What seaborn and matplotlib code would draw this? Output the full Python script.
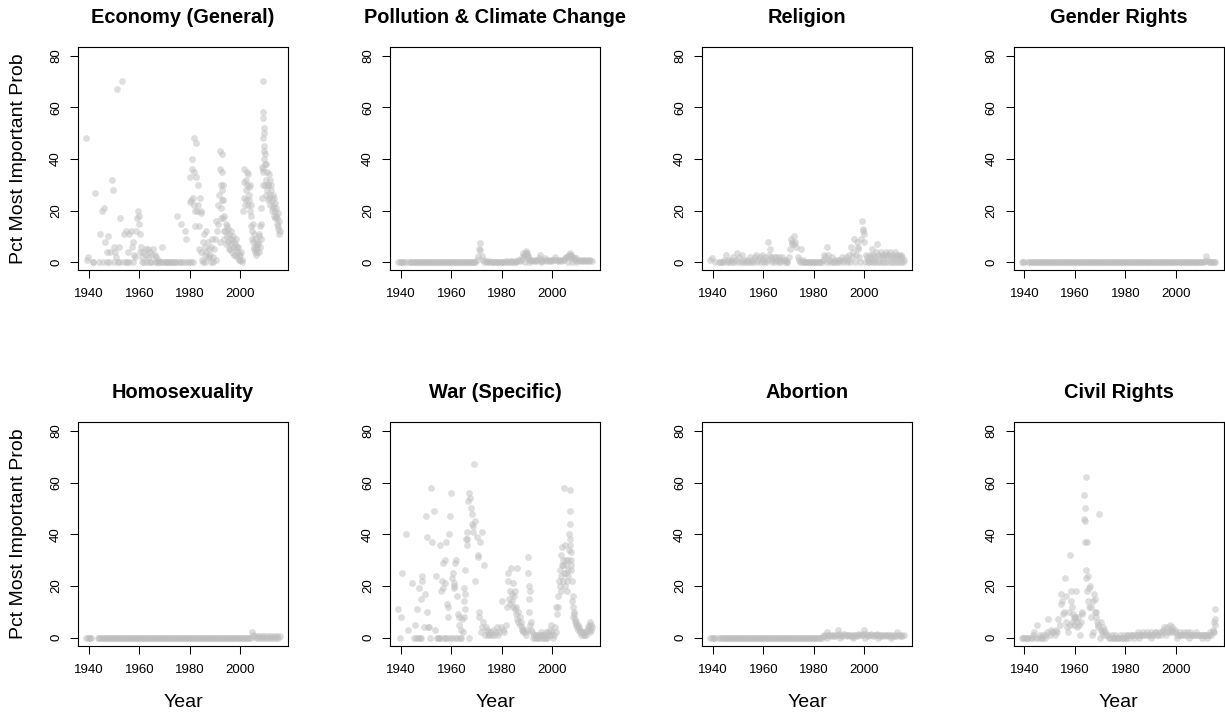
import matplotlib
matplotlib.use("Agg")
import matplotlib.pyplot as plt
import pandas as pd
import seaborn as sns

N = None

# survey dates shared by every panel (semi-annual)
survey_dates = [
    1939.0, 1939.5, 1940.0, 1940.5, 1941.0, 1941.5, 1942.0, 1942.5, 1943.0, 1943.5,
    1944.0, 1944.5, 1945.0, 1945.5, 1946.0, 1946.5, 1947.0, 1947.5, 1948.0, 1948.5,
    1949.0, 1949.5, 1950.0, 1950.5, 1951.0, 1951.5, 1952.0, 1952.5, 1953.0, 1953.5,
    1954.0, 1954.5, 1955.0, 1955.5, 1956.0, 1956.5, 1957.0, 1957.5, 1958.0, 1958.5,
    1959.0, 1959.5, 1960.0, 1960.5, 1961.0, 1961.5, 1962.0, 1962.5, 1963.0, 1963.5,
    1964.0, 1964.5, 1965.0, 1965.5, 1966.0, 1966.5, 1967.0, 1967.5, 1968.0, 1968.5,
    1969.0, 1969.5, 1970.0, 1970.5, 1971.0, 1971.5, 1972.0, 1972.5, 1973.0, 1973.5,
    1974.0, 1974.5, 1975.0, 1975.5, 1976.0, 1976.5, 1977.0, 1977.5, 1978.0, 1978.5,
    1979.0, 1979.5, 1980.0, 1980.5, 1981.0, 1981.5, 1982.0, 1982.5, 1983.0, 1983.5,
    1984.0, 1984.5, 1985.0, 1985.5, 1986.0, 1986.5, 1987.0, 1987.5, 1988.0, 1988.5,
    1989.0, 1989.5, 1990.0, 1990.5, 1991.0, 1991.5, 1992.0, 1992.5, 1993.0, 1993.5,
    1994.0, 1994.5, 1995.0, 1995.5, 1996.0, 1996.5, 1997.0, 1997.5, 1998.0, 1998.5,
    1999.0, 1999.5, 2000.0, 2000.5, 2001.0, 2001.5, 2002.0, 2002.5, 2003.0, 2003.5,
    2004.0, 2004.5, 2005.0, 2005.5, 2006.0, 2006.5, 2007.0, 2007.5, 2008.0, 2008.5,
    2009.0, 2009.5, 2010.0, 2010.5, 2011.0, 2011.5, 2012.0, 2012.5, 2013.0, 2013.5,
    2014.0, 2014.5, 2015.0, 2015.5,
]

titles = ["Economy (General)", "Pollution & Climate Change", "Religion", "Gender Rights",
          "Homosexuality", "War (Specific)", "Abortion", "Civil Rights"]

economy_vals = [
    48, 2, N, N, N, 0, N, 27, N, N, 0, 11, 20, 0, 21, 8, 0, 10, 0, 4,
    32, 28, 0, 4, 67, 0, 0, 17, 70, 0, 11, 0, 0, 4, 0, 12, 6, 0, 3, 12,
    17, 20, 15, 6, 0, 4, 0, 5, 0, 2, 0, 0, 3, 5, 0, 2, 0, 0, 0, 0,
    6, 0, 0, 0, 0, 0, 0, 0, 0, 0, 0, 0, 18, 0, 0, 15, 0, 0, 12, 9,
    0, 0, 33, 24, 36, 48, 20, 46, 22, 14, 25, 19, 8, 11, 6, 4, 8, 5, 3, 6,
    2, 5, 9, 16, 22, 26, 43, 42, 30, 18, 12, 14, 8, 11, 5, 9, 6, 8, 3, 6,
    4, 3, 1, 0, 20, 36, 28, 35, 34, 26, 18, 12, 8, 6, 5, 4, 7, 10, 21, 37,
    70, 50, 32, 35, 30, 26, 28, 24, 22, 20, 18, 17, 14, 12,
]
economy_extra = [
    (1939.3, 1), (1941.8, 0), (1947.2, 4), (1949.9, 6), (1950.9, 2), (1952.0, 6),
    (1954.8, 12), (1955.8, 11), (1957.6, 8), (1958.2, 2), (1959.8, 18), (1960.1, 11),
    (1960.3, 4), (1961.2, 2), (1962.8, 3), (1963.4, 5), (1964.3, 4), (1966.0, 3), (1967.2, 1),
    (1980.2, 23.5), (1980.3, 0), (1980.8, 40), (1981.2, 25), (1981.3, 0), (1981.6, 35),
    (1981.8, 22), (1982.0, 14), (1982.3, 33), (1982.8, 20), (1983.2, 30), (1983.4, 5),
    (1984.2, 20), (1984.4, 4), (1984.7, 1), (1985.2, 0), (1985.8, 3), (1986.0, 0), (1986.3, 12),
    (1987.2, 2), (1987.6, 2), (1988.2, 0), (1988.7, 9), (1989.3, 0), (1990.2, 1),
    (1990.8, 12), (1991.2, 15), (1991.7, 8), (1992.0, 36), (1992.1, 30), (1992.2, 21),
    (1992.3, 17), (1992.6, 35), (1992.7, 28), (1992.8, 24), (1993.1, 24), (1993.2, 17),
    (1993.3, 12), (1993.6, 9), (1994.2, 15), (1994.3, 7), (1994.8, 10), (1995.2, 13),
    (1995.4, 5), (1995.8, 9), (1996.2, 7), (1996.4, 12), (1996.7, 4), (1997.2, 10),
    (1997.4, 3), (1997.8, 7), (1998.2, 5), (1998.4, 9), (1998.7, 2), (1999.2, 6),
    (1999.4, 1), (1999.8, 3), (2000.2, 4), (2000.7, 1),
    (2001.2, 25), (2001.3, 31), (2001.7, 22), (2002.2, 24), (2002.3, 32), (2002.7, 30),
    (2002.8, 22), (2003.2, 29), (2003.3, 24), (2003.7, 20), (2003.8, 30), (2004.2, 14),
    (2004.3, 22), (2004.7, 9), (2004.8, 15),
    (2005.2, 11), (2005.3, 5), (2005.7, 9), (2005.8, 4), (2006.2, 7), (2006.3, 3),
    (2006.7, 6), (2006.8, 8), (2007.2, 4), (2007.3, 11), (2007.7, 6), (2007.8, 14),
    (2008.2, 9), (2008.3, 15), (2008.7, 25), (2008.8, 30), (2008.9, 36),
    (2009.0, 58), (2009.1, 56), (2009.2, 52), (2009.1, 48), (2009.3, 45), (2009.2, 43),
    (2009.4, 40), (2009.0, 35), (2009.6, 38), (2009.7, 30), (2009.8, 42), (2009.9, 26),
    (2010.2, 38), (2010.3, 28), (2010.7, 30), (2010.8, 24), (2011.2, 34), (2011.3, 25),
    (2011.7, 32), (2011.8, 22), (2012.2, 30), (2012.3, 20), (2012.7, 26), (2012.8, 21),
    (2013.2, 25), (2013.3, 18), (2013.7, 23), (2013.8, 17), (2014.2, 21), (2014.3, 15),
    (2014.7, 19), (2014.8, 13), (2015.2, 16), (2015.3, 11),
]

pollution_vals = [
    0, 0, 0, 0, 0, 0, N, N, 0, 0, 0, 0, 0, 0, 0, 0, 0, 0, 0, 0,
    0, 0, 0, 0, 0, 0, 0, 0, 0, 0, 0, 0, 0, 0, 0, 0, 0, 0, 0, 0,
    0, 0, 0, 0, 0, 0, 0, 0, 0, 0, 0, 0, 0, 0, 0, 0, 0, 0, 0, 0,
    0, 0, 1, 2.5, 5, 7.6, 2.5, 1, 0, 0.5, 0, 0, 0.5, 0, 0, 0, 0, 0, 0, 0,
    0, 0, 0, 0, 0, 0.5, 0, 0, 0.5, 0, 0, 0.5, 0, 0, 0.5, 1, 0.5, 1, 2, 3.5,
    3, 4.5, 3.5, 2, 1, 0.5, 1, 0.5, 1, 0.5, 1, 1.5, 2.8, 1, 0.5, 1, 1.5, 0.5, 1, 0.5,
    1, 0.5, 1, 1, 2, 1, 0.5, 1, 1, 0.5, 1, 1, 1.5, 2, 2.5, 3, 3.5, 3, 2, 1.5,
    1, 1.5, 1, 0.5, 1, 0.5, 1, 0.5, 1, 0.5, 1, 0.5, 1, 0.5,
]
pollution_extra = [
    (1971.2, 4.8), (1988.7, 3), (1989.4, 3.5), (1990.2, 2.5), (1989.8, 1.5),
    (2006.7, 2), (2007.2, 2.5), (2007.8, 1.5), (1989.2, 0), (1990.6, 0),
    (2006.2, 0), (2007.6, 0), (2009.5, 0), (1995.3, 0),
]

religion_vals = [
    1, 1.5, N, N, 0, N, N, 0, 0, 0, 0, 1, 3, 0, 1, 0, 1, 0, 2, 0,
    1, 3.5, 0, 2, 0, 3, 0, 1, 0, 1, 0, 2, 0, 1, 0, 2, 3, 0, 1, 2,
    0, 3, 1, 2, 0, 1, 8, 5, 2, 1, 2, 0, 2, 1, 2, 0, 1, 2, 1, 0,
    1, 0, 2, 5, 9, 7, 10, 8, 6, 2, 1, 0, 5, 1, 0, 0, 0, 0, 0, 0,
    0, 0, 0, 0, 0, 0, 0, 0, 0, 1, 3, 2, 6, 3, 1, 0, 2, 0, 0, 1,
    0, 1, 0, 1, 2, 0, 1, 2, 0, 1, 3, 6, 2, 4, 9, 3, 8, 5, 2, 9,
    16, 13, 11, 3, 2, 1, 3, 2, 5, 3, 2, 4, 7, 3, 2, 4, 3, 2, 3, 4,
    2, 3, 4, 2, 3, 2, 4, 3, 2, 3, 2, 3, 2, 1,
]
religion_extra = [
    (1960.3, 0), (1963.3, 0), (1966.2, 0), (1969.3, 0), (1972.3, 7), (1971.3, 8),
    (1975.3, 0), (1985.3, 0), (1994.3, 0), (1996.3, 0), (1997.5, 6), (1998.3, 0),
    (1999.6, 12), (2000.0, 8), (2000.2, 0), (2001.3, 0), (2002.3, 0), (2003.3, 0),
    (2003.8, 1), (2004.3, 0), (2005.3, 0), (2006.3, 0), (2007.3, 0), (2008.3, 0),
    (2009.3, 0), (2010.3, 0), (2011.3, 0), (2012.3, 0), (2013.3, 0), (2014.3, 0),
    (2015.3, 0), (1962.3, 3),
]

gender_vals = [
    0, 0, 0, N, N, 0, 0, 0, 0, 0, 0, 0, 0, 0, 0, 0, 0, 0, 0, 0,
    0, 0, 0, 0, 0, 0, 0, 0, 0, 0, 0, 0, 0, 0, 0, 0, 0, 0, 0, 0,
    0, 0, 0, 0, 0, 0, 0, 0, 0, 0, 0, 0, 0, 0, 0, 0, 0, 0, 0, 0,
    0, 0, 0, 0, 0, 0, 0, 0, 0, 0, 0, 0, 0, 0, 0, 0, 0, 0, 0, 0,
    0, 0, 0, 0, 0, 0, 0, 0, 0, 0, 0, 0, 0, 0, 0, 0, 0, 0, 0, 0,
    0, 0, 0, 0, 0, 0, 0, 0, 0, 0, 0, 0, 0, 0, 0, 0, 0, 0, 0, 0,
    0, 0, 0, 0, 0, 0, 0, 0, 0, 0, 0, 0, 0, 0, 0, 0, 0, 0, 0, 0,
    0, 0, 0, 0, 0, 0.5, 2.5, 0.5, 0, 0, 0, 0, 0, 0,
]
gender_extra = []

homosexuality_vals = [
    0, 0, 0, 0, 0, N, N, N, N, 0, 0, 0, 0, 0, 0, 0, 0, 0, 0, 0,
    0, 0, 0, 0, 0, 0, 0, 0, 0, 0, 0, 0, 0, 0, 0, 0, 0, 0, 0, 0,
    0, 0, 0, 0, 0, 0, 0, 0, 0, 0, 0, 0, 0, 0, 0, 0, 0, 0, 0, 0,
    0, 0, 0, 0, 0, 0, 0, 0, 0, 0, 0, 0, 0, 0, 0, 0, 0, 0, 0, 0,
    0, 0, 0, 0, 0, 0, 0, 0, 0, 0, 0, 0, 0, 0, 0, 0, 0, 0, 0, 0,
    0, 0, 0, 0, 0, 0, 0, 0, 0, 0, 0, 0, 0, 0, 0, 0, 0, 0, 0, 0,
    0, 0, 0, 0, 0, 0, 0, 0, 0, 0, 0, 2.3, 1, 0.5, 0, 0.5, 0, 0.5, 0, 0.5,
    0, 0.5, 0, 0.5, 0, 0.5, 0, 0.5, 0, 0.5, 0, 0.5, 0, 0.5,
]
homosexuality_extra = []

war_vals = [
    11, 0, 8, 25, N, N, 40, N, 3, N, N, 21, 0, 5, 0, 11, 19, 0, 15, 24,
    4, 17, 47, 10, 4, 0, 58, 37, 49, 3, 24, 0, 0, 36, 18, 29, 0, 21, 37, 8,
    40, 47, 56, 25, 20, 29, 30, 9, 5, 0, 7, 2, 19, 26, 41, 53, 56, 54, 48, 41,
    67, 22, 39, 31, 10, 37, 41, 6, 28, 4, 3, 2, 1, 2, 1, 3, 1, 2, 4, 1,
    2, 4, 14, 3, 2, 5, 12, 25, 18, 27, 14, 21, 18, 12, 27, 10, 8, 6, 4, 3,
    2, 1, 3, 31, 18, 6, 2, 1, 0, 1, 0, 1, 0, 2, 1, 0, 1, 2, 0, 1,
    3, 5, 2, 1, 4, 12, 16, 22, 26, 32, 28, 58, 36, 30, 26, 34, 57, 30, 16, 10,
    7, 6, 5, 4, 3, 2, 2, 1, 2, 3, 4, 5, 6, 4,
]
war_extra = [
    (1946.8, 0), (1947.8, 0), (1948.2, 22), (1950.5, 39), (1950.8, 4),
    (1954.4, 0), (1955.6, 0), (1957.6, 0), (1958.4, 0), (1959.4, 0), (1960.2, 0),
    (1961.3, 0), (1962.2, 0), (1963.6, 0), (1966.9, 0),
    (1956.2, 22), (1956.8, 19), (1957.3, 30), (1958.2, 13), (1958.6, 12),
    (1960.3, 23), (1960.9, 19), (1961.2, 21), (1962.3, 16), (1963.2, 8), (1963.8, 3),
    (1964.9, 14), (1965.1, 8), (1965.3, 11), (1965.4, 17), (1965.8, 38), (1966.2, 36),
    (1966.3, 38), (1967.6, 50), (1968.1, 44), (1968.4, 43), (1969.4, 45), (1970.4, 32),
    (1971.0, 8), (1971.8, 2), (1972.3, 4), (1973.2, 1), (1974.3, 1),
    (1982.4, 22), (1982.8, 15), (1983.2, 13), (1983.8, 17), (1984.2, 12), (1984.8, 16),
    (1985.2, 11), (1985.4, 9), (1985.8, 7), (1986.2, 6), (1987.2, 5), (1987.8, 3),
    (1988.3, 2), (1990.5, 25), (1990.6, 20), (1990.7, 15), (1990.8, 10), (1991.2, 5),
    (1991.3, 3), (1992.3, 0), (1993.3, 1), (1994.3, 0), (1995.3, 1), (1996.3, 0),
    (1997.3, 0), (1998.3, 2), (1999.3, 1), (2000.3, 0), (2001.2, 2),
    (2001.8, 9), (2002.2, 12), (2002.8, 20), (2003.2, 24), (2003.4, 18), (2003.7, 35),
    (2003.8, 28), (2004.2, 22), (2004.3, 30), (2004.7, 25), (2004.8, 20), (2005.2, 28),
    (2005.3, 25), (2005.7, 22), (2005.8, 18), (2006.2, 30), (2006.3, 24), (2006.7, 40),
    (2006.8, 36), (2006.9, 49), (2007.0, 44), (2007.1, 38), (2007.2, 33), (2007.3, 28),
    (2007.4, 26), (2007.6, 22), (2007.8, 14), (2008.2, 12), (2008.3, 8), (2008.7, 9),
    (2008.8, 6), (2009.3, 5), (2009.7, 4), (2010.2, 3), (2010.7, 2), (2011.3, 1),
    (2012.3, 1), (2013.3, 1), (2014.3, 3), (2014.7, 2), (2015.2, 3), (2015.3, 5),
]

abortion_vals = [
    0, 0, 0, 0, 0, N, N, 0, 0, 0, 0, 0, 0, 0, 0, 0, 0, 0, 0, 0,
    0, 0, 0, 0, 0, 0, 0, 0, 0, 0, 0, 0, 0, 0, 0, 0, 0, 0, 0, 0,
    0, 0, 0, 0, 0, 0, 0, 0, 0, 0, 0, 0, 0, 0, 0, 0, 0, 0, 0, 0,
    0, 0, 0, 0, 0, 0, 0, 0, 0, 0, 0, 0, 0, 0, 0, 0, 0, 0, 0, 0,
    0, 0, 0, 0, 0, 0, 0, 0, 0, 0.5, 1, 0.5, 2, 1, 1, 0.5, 1, 0.5, 1, 0.5,
    1, 2.8, 1.5, 1, 0.5, 1, 1.5, 1, 0.5, 1, 1, 0.5, 1, 0.5, 1, 1, 0.5, 1, 1.5, 1,
    1, 1.5, 2.8, 1.5, 1, 0.5, 1, 1.5, 1, 0.5, 1, 1, 1.5, 1, 0.5, 1, 1, 0.5, 1, 1,
    0.5, 1, 1, 0.5, 1, 0.5, 1, 0.5, 2.3, 1, 0.5, 1, 0.5, 1,
]
abortion_extra = [(1985.3, 0), (1990.3, 0), (1995.3, 0), (2000.3, 0), (2005.3, 0), (2010.3, 0)]

civil_vals = [
    0, 0, 0, 0, 0, 0, N, 0, 0, 1, 2, 0, 5, 0, 1, 0, 0, 1, 0, 1,
    2, 7, 1, 3, 2, 2, 1, 3, 2, 7, 5, 17, 14, 10, 23, 6, 4, 10, 32, 18,
    12, 8, 7, 18, 6, 5, 1, 6, 10, 55, 50, 62, 24, 19, 20, 12, 2, 17, 15, 10,
    5, 48, 0, 6, 4, 3, 2, 1, 1, 0, 0, 1, 0, 0, 1, 0, 0, 0, 1, 0,
    0, 1, 0, 1, 1, 0, 1, 1, 1, 0, 1, 1, 2, 1, 1, 1, 2, 1, 1, 2,
    1, 1, 2, 1, 1, 2, 2, 1, 1, 2, 1, 2, 3, 2, 1, 4, 2, 3, 2, 4,
    2, 3, 2, 1, 1, 2, 1, 1, 2, 1, 1, 2, 1, 2, 1, 1, 1, 1, 2, 1,
    1, 1, 1, 1, 1, 1, 1, 1, 1, 2, 1, 3, 6, 11,
]
civil_extra = [
    (1954.3, 13), (1955.2, 9), (1956.3, 16), (1957.2, 2), (1958.2, 5), (1958.6, 14),
    (1958.8, 6), (1959.3, 9), (1959.7, 5), (1960.2, 8), (1960.8, 4), (1961.3, 8),
    (1962.8, 9), (1963.7, 46), (1963.9, 37), (1964.1, 45), (1964.2, 26), (1964.3, 23),
    (1964.6, 37), (1964.8, 18), (1965.3, 14), (1965.6, 12), (1966.2, 8), (1966.7, 1),
    (1967.3, 14), (1967.8, 10), (1968.2, 8), (1968.7, 6), (1969.2, 4), (1970.3, 3),
    (1970.8, 2), (1971.3, 1), (1975.3, 0), (1980.3, 0), (1985.3, 0), (1990.3, 0),
    (1995.3, 4), (1997.8, 5), (1998.3, 3), (2000.3, 0), (2005.3, 0), (2010.3, 0),
    (2012.3, 0), (2014.8, 2), (2015.2, 2), (2015.3, 7), (2015.4, 5),
]

x_ticks = [1940, 1960, 1980, 2000]
y_ticks = [0, 20, 40, 60, 80]

panels = [
    (economy_vals, economy_extra), (pollution_vals, pollution_extra),
    (religion_vals, religion_extra), (gender_vals, gender_extra),
    (homosexuality_vals, homosexuality_extra), (war_vals, war_extra),
    (abortion_vals, abortion_extra), (civil_vals, civil_extra),
]


def panel_frame(vals, extra, name):
    if len(vals) != len(survey_dates):
        raise ValueError(f"{name}: {len(vals)} values vs {len(survey_dates)} dates")
    xs = [d for d, v in zip(survey_dates, vals) if v is not None]
    ys = [v for v in vals if v is not None]
    xs += [p[0] for p in extra]
    ys += [p[1] for p in extra]
    return pd.DataFrame({"Year": xs, "Pct": ys})


sns.set_theme(style="ticks")
plt.rcParams["font.family"] = ["Liberation Sans", "DejaVu Sans"]
plt.rcParams["axes.linewidth"] = 0.8
plt.rcParams["axes.edgecolor"] = "black"
plt.rcParams["text.color"] = "black"
plt.rcParams["axes.labelcolor"] = "black"
plt.rcParams["axes.titlecolor"] = "black"
plt.rcParams["xtick.color"] = "black"
plt.rcParams["ytick.color"] = "black"

W, H = 1225, 713
fig = plt.figure(figsize=(W / 100, H / 100), dpi=100)
lefts = [78, 390, 702, 1013.5]
tops = [47, 422.3]
aw, ah = 210, 223.3

for i, (title, (vals, extra)) in enumerate(zip(titles, panels)):
    r, c = divmod(i, 4)
    ax = fig.add_axes([lefts[c] / W, 1 - (tops[r] + ah) / H, aw / W, ah / H])
    df = panel_frame(vals, extra, title)
    sns.scatterplot(data=df, x="Year", y="Pct", ax=ax, color="#BEBEBE", alpha=0.5,
                    s=24, linewidth=0, legend=False)
    ax.set_xlim(1935.7, 2018.8)
    ax.set_ylim(-3.1, 83.3)
    ax.set_xticks(x_ticks)
    ax.set_xticklabels([str(t) for t in x_ticks])
    ax.set_yticks(y_ticks)
    ax.set_yticklabels([str(t) for t in y_ticks])
    ax.tick_params(axis="both", direction="out", length=5.5, width=0.75,
                   labelsize=9.5, colors="black", labelcolor="black")
    ax.tick_params(axis="x", pad=7.5)
    ax.tick_params(axis="y", labelrotation=90, pad=6)
    for lab in ax.get_yticklabels():
        lab.set_verticalalignment("center")
    for sp in ax.spines.values():
        sp.set_visible(True)
        sp.set_color("black")
        sp.set_linewidth(0.8)
    ax.set_xlabel("")
    ax.set_ylabel("")
    ax.set_title(title, fontsize=14.4, fontweight="bold", pad=17.5, color="black")
    if r == 1:
        fig.text((lefts[c] + aw / 2) / W, 1 - 707 / H, "Year", fontsize=14,
                 ha="center", va="baseline", color="black")
    if c == 0:
        fig.text(19 / W, 1 - (tops[r] + ah / 2) / H, "Pct Most Important Prob",
                 fontsize=14, rotation=90, ha="center", va="center", color="black")

fig.savefig("out.png", dpi=100)
